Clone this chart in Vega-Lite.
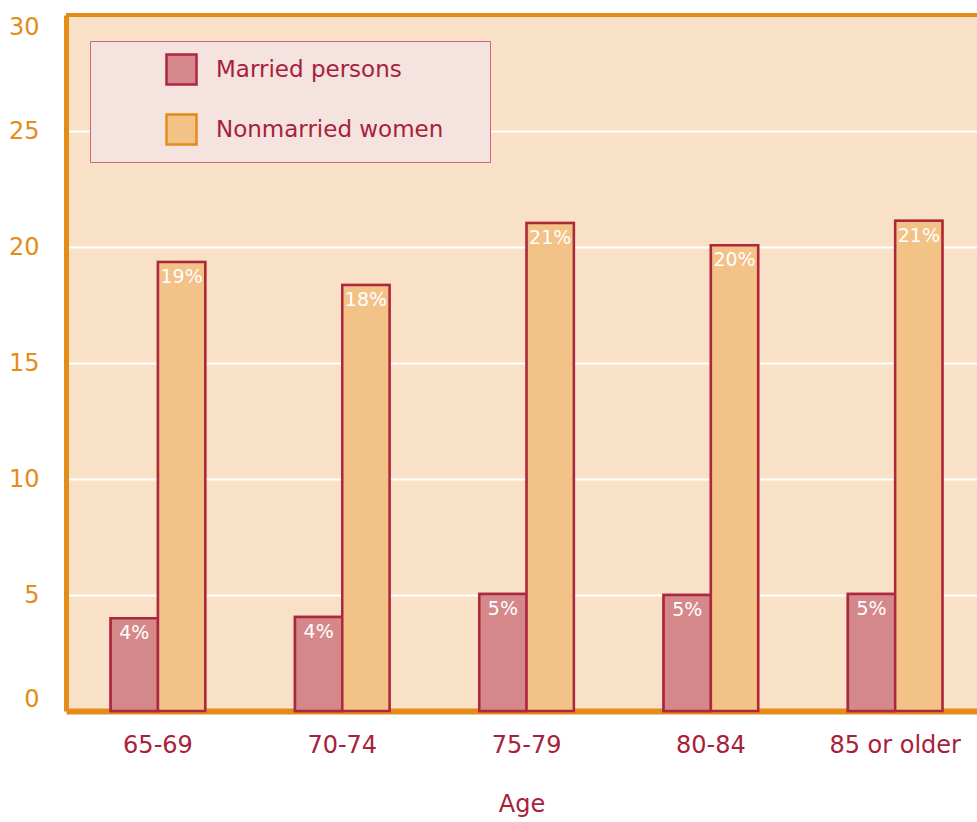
{
  "$schema": "https://vega.github.io/schema/vega-lite/v6.json",
  "width": 911,
  "height": 696,
  "autosize": "none",
  "padding": {"left": 66, "top": 15, "right": 0, "bottom": 111},
  "background": "white",
  "config": {
    "view": {"fill": "#F8E1C7", "stroke": null},
    "font": "DejaVu Sans",
    "legend": {
      "orient": "none", "legendX": 24, "legendY": 26,
      "titleOrient": "right", "titlePadding": 35, "titleFontSize": 23,
      "padding": 12, "symbolOffset": 63, "symbolType": "square", "symbolSize": 900,
      "symbolStrokeWidth": 2.5, "labelFontSize": 23, "labelColor": "#A8213A", "labelOffset": 18,
      "labelLimit": 500, "rowPadding": 19, "fillColor": "#F5E3E0", "strokeColor": "#D0667A"
    }
  },
  "data": {
    "values": [
      {"age": "65-69", "group": "Married persons", "value": 4.0, "label": "4%"},
      {"age": "65-69", "group": "Nonmarried women", "value": 19.35, "label": "19%"},
      {"age": "70-74", "group": "Married persons", "value": 4.05, "label": "4%"},
      {"age": "70-74", "group": "Nonmarried women", "value": 18.36, "label": "18%"},
      {"age": "75-79", "group": "Married persons", "value": 5.04, "label": "5%"},
      {"age": "75-79", "group": "Nonmarried women", "value": 21.03, "label": "21%"},
      {"age": "80-84", "group": "Married persons", "value": 5.0, "label": "5%"},
      {"age": "80-84", "group": "Nonmarried women", "value": 20.08, "label": "20%"},
      {"age": "85 or older", "group": "Married persons", "value": 5.04, "label": "5%"},
      {"age": "85 or older", "group": "Nonmarried women", "value": 21.13, "label": "21%"}
    ]
  },
  "layer": [
    {
      "mark": {"type": "bar", "strokeWidth": 2.5},
      "encoding": {
        "x": {
          "field": "age", "type": "nominal", "sort": null,
          "scale": {"paddingInner": 0.487, "paddingOuter": 0.215, "align": 0.564},
          "axis": {
            "title": "Age", "titleColor": "#A8213A", "titleFontSize": 24, "titleFontWeight": "normal",
            "titlePadding": 35, "labelColor": "#A8213A", "labelFontSize": 24, "labelAngle": 0,
            "ticks": false, "labelPadding": 22, "domainColor": "#E38C1A", "domainWidth": 6
          }
        },
        "xOffset": {"field": "group", "type": "nominal", "sort": ["Married persons", "Nonmarried women"]},
        "y": {
          "field": "value", "type": "quantitative",
          "scale": {"domain": [0, 30], "nice": false},
          "axis": {
            "title": null, "values": [0, 5, 10, 15, 20, 25, 30], "ticks": false, "labelPadding": 27,
            "labelFontSize": 24, "labelColor": "#E38C1A", "labelFlush": true,
            "domainColor": "#E38C1A", "domainWidth": 5, "gridColor": "white", "gridWidth": 2, "gridOpacity": 1
          }
        },
        "fill": {
          "field": "group", "type": "nominal",
          "scale": {"domain": ["Married persons", "Nonmarried women"], "range": ["#D4888A", "#F2C287"]},
          "legend": {"title": " "}
        },
        "stroke": {
          "field": "group", "type": "nominal",
          "scale": {"domain": ["Married persons", "Nonmarried women"], "range": ["#AE2740", "#E38C1A"]},
          "legend": {"title": " "}
        }
      }
    },
    {
      "mark": {"type": "bar", "stroke": "#AE2740", "strokeWidth": 2.5},
      "encoding": {
        "x": {"field": "age", "type": "nominal", "sort": null},
        "xOffset": {"field": "group", "type": "nominal", "sort": ["Married persons", "Nonmarried women"]},
        "y": {"field": "value", "type": "quantitative"},
        "fill": {"field": "group", "type": "nominal", "legend": {"title": " "}}
      }
    },
    {
      "mark": {"type": "text", "color": "white", "fontSize": 19, "baseline": "middle", "dy": 15},
      "encoding": {
        "x": {"field": "age", "type": "nominal", "sort": null},
        "xOffset": {"field": "group", "type": "nominal", "sort": ["Married persons", "Nonmarried women"]},
        "y": {"field": "value", "type": "quantitative"},
        "text": {"field": "label"}
      }
    },
    {
      "mark": {"type": "rule", "color": "#E38C1A", "strokeWidth": 4},
      "encoding": {"y": {"datum": 30}}
    }
  ]
}
